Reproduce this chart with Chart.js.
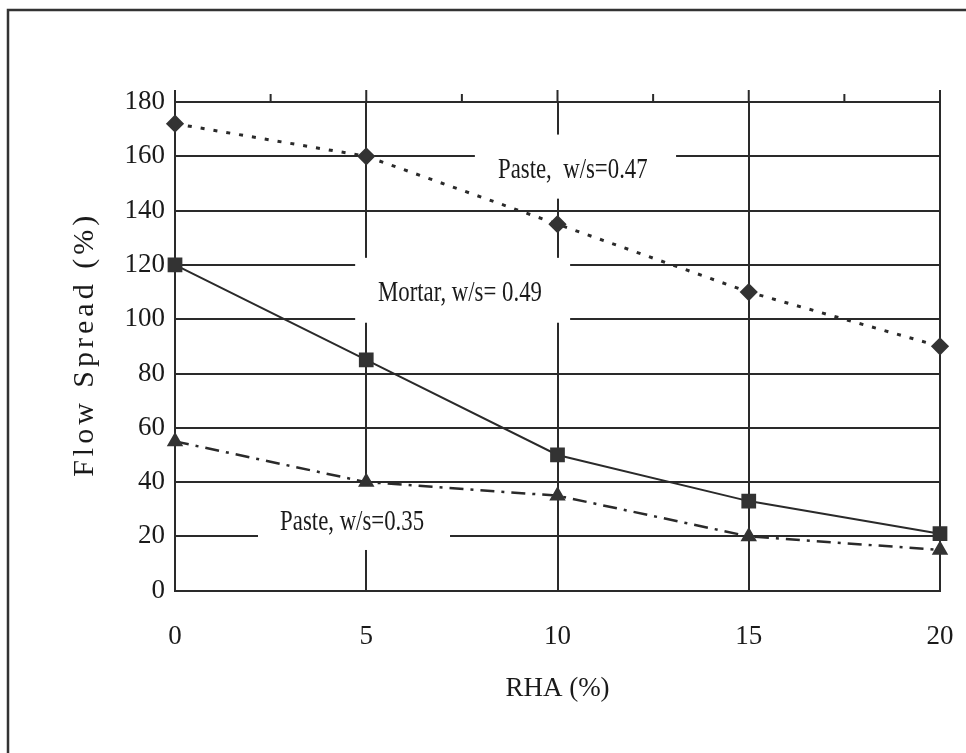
<!DOCTYPE html>
<html>
<head>
<meta charset="utf-8">
<script src="https://cdn.jsdelivr.net/npm/chart.js@4.4.0/dist/chart.umd.min.js"></script>
<style>
  body { margin: 0; background: #fff; }
  canvas { display: block; }
</style>
</head>
<body>
<canvas id="myChart" width="966" height="753"></canvas>
<script>
// values
var rha = [0, 5, 10, 15, 20];
var paste047 = [172, 160, 135, 110, 90];
var mortar049 = [120, 85, 50, 33, 21];
var paste035 = [55, 40, 35, 20, 15];

var xTicks = [0, 5, 10, 15, 20];
var yTicks = [0, 20, 40, 60, 80, 100, 120, 140, 160, 180];
var minorTicks = [2.5, 7.5, 12.5, 17.5];

// in-plot labels (text, centre x, centre y) and the white gaps they cut in the grid
var labelText = ["Paste,  w/s=0.47", "Mortar, w/s= 0.49", "Paste, w/s=0.35"];
var labelX = [10.4, 7.45, 4.63];
var labelY = [155, 109.7, 25.3];
var gapX1 = [7.84, 4.71, 2.17];
var gapX2 = [13.1, 10.33, 7.19];
var gapY1 = [144.4, 98.7, 15];
var gapY2 = [168, 122.6, 39];

var ink = "#2a2a2a";
var serif = '"Liberation Serif", "Times New Roman", serif';

function pts(ys) {
  return rha.map(function (x, i) { return { x: x, y: ys[i] }; });
}

var extras = {
  id: "extras",
  beforeDraw: function (chart) {
    var c = chart.ctx;
    c.save();
    c.strokeStyle = "#333";
    c.lineWidth = 2.5;
    c.beginPath();
    c.moveTo(8, 753);
    c.lineTo(8, 10);
    c.lineTo(966, 10);
    c.stroke();
    c.restore();
  },
  beforeDatasetsDraw: function (chart) {
    var c = chart.ctx;
    var xs = chart.scales.x, ys = chart.scales.y;
    var top = chart.chartArea.top;
    c.save();
    // ticks sticking up over the top line
    c.strokeStyle = ink;
    c.lineWidth = 2;
    c.beginPath();
    xTicks.forEach(function (v) {
      var px = xs.getPixelForValue(v);
      c.moveTo(px, top);
      c.lineTo(px, top - 12);
    });
    minorTicks.forEach(function (v) {
      var px = xs.getPixelForValue(v);
      c.moveTo(px, top);
      c.lineTo(px, top - 8);
    });
    c.stroke();
    // white boxes behind the labels
    c.fillStyle = "#fff";
    for (var i = 0; i < labelText.length; i++) {
      var x1 = xs.getPixelForValue(gapX1[i]), x2 = xs.getPixelForValue(gapX2[i]);
      var y1 = ys.getPixelForValue(gapY2[i]), y2 = ys.getPixelForValue(gapY1[i]);
      c.fillRect(x1, y1, x2 - x1, y2 - y1);
    }
    // label text, squeezed a little like the scanned type
    c.fillStyle = "#1a1a1a";
    c.font = "30px " + serif;
    c.textAlign = "center";
    c.textBaseline = "middle";
    for (var j = 0; j < labelText.length; j++) {
      c.save();
      c.translate(xs.getPixelForValue(labelX[j]), ys.getPixelForValue(labelY[j]));
      c.scale(0.76, 1);
      c.fillText(labelText[j], 0, 0);
      c.restore();
    }
    c.restore();
  },
  afterDraw: function (chart) {
    var c = chart.ctx;
    var a = chart.chartArea;
    c.save();
    c.translate(85, (a.top + a.bottom) / 2);
    c.rotate(-Math.PI / 2);
    c.font = "30px " + serif;
    c.letterSpacing = "4px";
    c.fillStyle = "#1a1a1a";
    c.textAlign = "center";
    c.textBaseline = "middle";
    c.fillText("Flow Spread (%)", 2, 0);
    c.restore();
  }
};

var ctx = document.getElementById("myChart");
var myChart = new Chart(ctx, {
  type: "line",
  data: {
    datasets: [
      {
        label: "Paste, w/s=0.47",
        data: pts(paste047),
        borderColor: ink,
        borderWidth: 3,
        borderDash: [4, 9],
        pointStyle: "rectRot",
        pointRadius: 7,
        pointBackgroundColor: "#333",
        pointBorderColor: "#333",
        tension: 0,
        clip: false
      },
      {
        label: "Mortar, w/s=0.49",
        data: pts(mortar049),
        borderColor: ink,
        borderWidth: 2,
        pointStyle: "rect",
        pointRadius: 9,
        pointBackgroundColor: "#333",
        pointBorderColor: "#333",
        tension: 0,
        clip: false
      },
      {
        label: "Paste, w/s=0.35",
        data: pts(paste035),
        borderColor: ink,
        borderWidth: 2.5,
        borderDash: [14, 7, 3, 7],
        pointStyle: "triangle",
        pointRadius: 7,
        pointBackgroundColor: "#333",
        pointBorderColor: "#333",
        tension: 0,
        clip: false
      }
    ]
  },
  options: {
    responsive: false,
    animation: false,
    devicePixelRatio: 1,
    layout: { padding: { left: 0, top: 102, right: 26, bottom: 0 } },
    plugins: {
      legend: { display: false },
      tooltip: { enabled: false }
    },
    scales: {
      x: {
        type: "linear",
        min: 0,
        max: 20,
        afterBuildTicks: function (s) { s.ticks = xTicks.map(function (v) { return { value: v }; }); },
        afterFit: function (s) { s.height = 162.3; s.paddingLeft = 0; s.paddingRight = 14; },
        grid: { color: ink, lineWidth: 2, drawTicks: false },
        border: { color: ink, width: 2 },
        ticks: { color: "#1a1a1a", font: { family: serif, size: 27 }, padding: 30, maxRotation: 0 },
        title: { display: true, text: "RHA (%)", color: "#1a1a1a", font: { family: serif, size: 27 }, padding: { top: 4, bottom: 48 } }
      },
      y: {
        min: 0,
        max: 180,
        afterBuildTicks: function (s) { s.ticks = yTicks.map(function (v) { return { value: v }; }); },
        afterFit: function (s) { s.width = 175; },
        grid: { color: ink, lineWidth: 2, drawTicks: false },
        border: { color: ink, width: 2 },
        ticks: { color: "#1a1a1a", font: { family: serif, size: 27 }, padding: 10 }
      }
    }
  },
  plugins: [extras]
});
</script>
</body>
</html>
